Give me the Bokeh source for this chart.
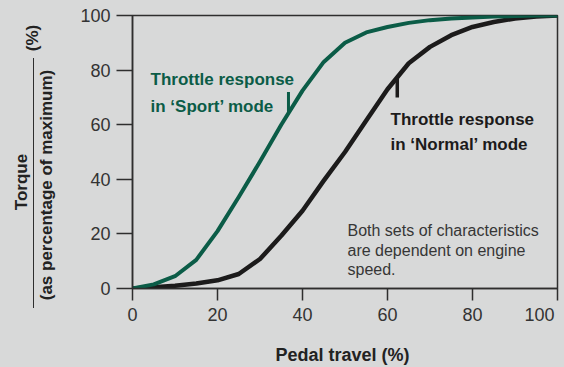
from bokeh.plotting import figure
from bokeh.models import Label, FixedTicker, Range1d, GlobalInlineStyleSheet, Div
from bokeh.layouts import row
from bokeh.embed import file_html
from bokeh.resources import INLINE

# ---- data ----
pedal = [0, 5, 10, 15, 20, 25, 30, 35, 40, 45, 50, 55, 60, 65, 70, 75, 80, 85, 90, 95, 100]
sport = [0, 1.5, 4.5, 10.5, 21, 33.5, 46.5, 60, 72.5, 83, 90, 93.8, 95.8, 97.3, 98.3, 98.9, 99.3, 99.6, 99.8, 100, 100]
normal = [0, 0.5, 1, 1.8, 3, 5.3, 10.8, 19.3, 28.5, 39.5, 50, 61.5, 73, 82.5, 88.5, 92.8, 95.8, 97.6, 98.9, 99.6, 100]
x_ticks = [0, 20, 40, 60, 80, 100]
y_ticks = [0, 20, 40, 60, 80, 100]

# callout ticks (x, y_from, y_to)
sport_callout = [36.7, 64.5, 72.0]
normal_callout = [62.3, 70.0, 77.5]

y_title_top = "Torque"
y_title_bottom = "(as percentage of maximum)"
y_title_unit = "(%)"
x_title = "Pedal travel  (%)"

BG = "#d8d9d9"
GREEN = "#0b5c47"
BLACK = "#1c1b1b"
AX = "#2e2e2e"
FONT = "Liberation Sans"

p = figure(width=504, height=367, output_backend="svg", toolbar_location=None,
           x_range=Range1d(0, 100), y_range=Range1d(0, 100), margin=0,
           min_border_left=72, min_border_right=7, min_border_top=15, min_border_bottom=77)
p.stylesheets = [GlobalInlineStyleSheet(css="html, body {margin:0 !important; padding:0; background:%s; overflow:hidden;}" % BG)]

p.background_fill_color = BG
p.border_fill_color = BG
p.outline_line_color = AX
p.outline_line_width = 1.5
p.grid.visible = False

for ax in (p.xaxis[0], p.yaxis[0]):
    ax.axis_line_color = AX
    ax.axis_line_width = 1.5
    ax.major_tick_line_color = AX
    ax.major_tick_line_width = 1.5
    ax.major_tick_in = 0
    ax.minor_tick_line_color = None
    ax.major_label_text_font = FONT
    ax.major_label_text_font_size = "18px"
    ax.major_label_text_color = "#333333"

p.xaxis.ticker = FixedTicker(ticks=x_ticks)
p.yaxis.ticker = FixedTicker(ticks=y_ticks)
p.xaxis.major_tick_out = 12
p.yaxis.major_tick_out = 16
p.xaxis.major_label_standoff = 4
p.yaxis.major_label_standoff = 6
# the last x label sits flush with the right edge of the frame
p.xaxis.major_label_overrides = {x_ticks[-1]: str(x_ticks[-1]) + "\u00a0" * 2}

p.xaxis.axis_label = x_title
p.xaxis.axis_label_text_font = FONT
p.xaxis.axis_label_text_font_style = "bold"
p.xaxis.axis_label_text_font_size = "18px"
p.xaxis.axis_label_text_color = "#222222"
p.xaxis.axis_label_standoff = 17

# curves
p.line(pedal, normal, line_width=4.5, line_color=BLACK, line_cap="round", line_join="round")
p.line(pedal, sport, line_width=4, line_color=GREEN, line_cap="round", line_join="round")

# callout ticks
p.segment(x0=[sport_callout[0]], y0=[sport_callout[1]], x1=[sport_callout[0]], y1=[sport_callout[2]],
          line_width=3, line_color=GREEN)
p.segment(x0=[normal_callout[0]], y0=[normal_callout[1]], x1=[normal_callout[0]], y1=[normal_callout[2]],
          line_width=3.5, line_color=BLACK)


def lab(sx, sy, text, color, size, style="normal"):
    # screen offsets measured from the frame's bottom-left corner
    p.add_layout(Label(x=sx, y=sy, x_units="screen", y_units="screen", text=text, text_color=color,
                       text_font=FONT, text_font_size=size, text_font_style=style,
                       text_align="left", text_baseline="alphabetic"))


lab(18, 209, "Throttle response", GREEN, "17px", "bold")
lab(18, 182, "in \u2018Sport\u2019 mode", GREEN, "17px", "bold")
lab(258, 169, "Throttle response", BLACK, "17px", "bold")
lab(258, 144, "in \u2018Normal\u2019 mode", BLACK, "17px", "bold")

lab(215, 58, "Both sets of characteristics", "#363636", "16px")
lab(215, 38, "are dependent on engine", "#363636", "16px")
lab(215, 19, "speed.", "#363636", "16px")

# y axis title: "Torque" over "(as percentage of maximum)" as a fraction, rotated
rot = ("position:absolute; transform:translate(-50%,-50%) rotate(-90deg); white-space:nowrap; "
       "font-family:'Liberation Sans'; font-weight:bold; font-size:17px; color:#222222; line-height:1;")
html = (
    '<div style="position:relative; width:60px; height:367px; background:%s;">' % BG
    + '<div style="position:absolute; left:32.5px; top:58px; width:1.5px; height:250px; background:%s;"></div>' % AX
    + '<div style="%s left:20.5px; top:182px;">%s</div>' % (rot, y_title_top)
    + '<div style="%s left:46px; top:185px;">%s</div>' % (rot, y_title_bottom)
    + '<div style="%s left:31.5px; top:37.5px;">%s</div>' % (rot, y_title_unit)
    + '</div>'
)
ylab = Div(text=html, width=60, height=367, margin=0, styles={"background-color": BG})

layout = row(ylab, p, spacing=0, margin=0)
open("out.html", "w").write(file_html(layout, INLINE))
